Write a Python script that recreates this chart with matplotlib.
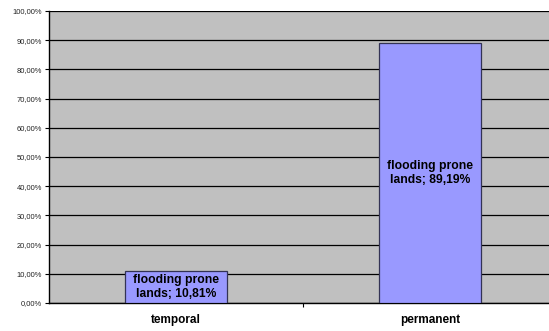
import matplotlib.pyplot as plt

categories = ["temporal", "permanent"]
shares = [10.81, 89.19]
bar_labels = ["flooding prone\nlands; 10,81%", "flooding prone\nlands; 89,19%"]
yticks = [0, 10, 20, 30, 40, 50, 60, 70, 80, 90, 100]

plt.rcParams["font.family"] = ["Liberation Sans", "DejaVu Sans"]

fig = plt.figure(figsize=(5.49, 3.31), dpi=100)
# plot area runs a bit past the right edge of the canvas
ax = fig.add_axes([49 / 549, 28 / 331, 508 / 549, 292 / 331])
ax.set_facecolor("#c0c0c0")

x = range(len(categories))
bars = ax.bar(x, shares, width=0.4, color="#9999ff", edgecolor="#333355", linewidth=0.9, zorder=3)

for rect, text in zip(bars, bar_labels):
    ax.text(rect.get_x() + rect.get_width() / 2, rect.get_height() / 2, text,
            ha="center", va="center", fontsize=8.7, fontweight="bold",
            color="#000000", linespacing=1.2, zorder=4)

ax.set_xlim(-0.5, 1.5)
ax.set_ylim(0, 100)
ax.set_yticks(yticks)
ax.set_yticklabels([f"{v:.2f}%".replace(".", ",") for v in yticks], fontsize=5.4, color="#222222")
ax.yaxis.grid(True, color="#000000", linewidth=0.9, zorder=1)
ax.set_axisbelow(True)

ax.set_xticks([0.5], minor=False)
ax.set_xticklabels([""])
ax.set_xticks([0, 1], minor=True)
ax.set_xticklabels(categories, minor=True, fontsize=8.5, fontweight="bold")
ax.tick_params(axis="x", which="minor", length=0, pad=8)
ax.tick_params(axis="x", which="major", length=3, width=0.8)
ax.tick_params(axis="y", length=3, width=0.8, pad=2)

for side in ["top", "right"]:
    ax.spines[side].set_visible(False)
ax.spines["left"].set_linewidth(1.0)
ax.spines["bottom"].set_linewidth(1.0)

fig.savefig("out.png", dpi=100)
